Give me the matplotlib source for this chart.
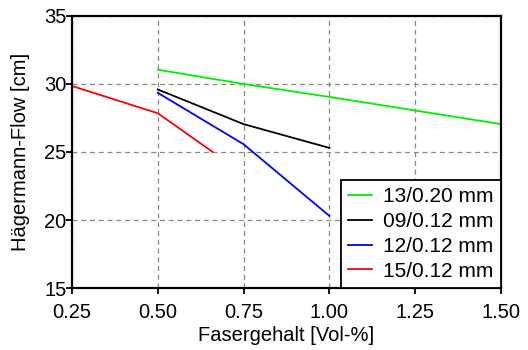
import matplotlib
matplotlib.use('Agg')
import matplotlib.pyplot as plt

plt.rcParams['font.family'] = ['Liberation Sans', 'DejaVu Sans']

# data
x_green = [0.50, 0.75, 1.00, 1.25, 1.50]
y_green = [31.05, 30.0, 29.05, 28.05, 27.05]
x_black = [0.50, 0.75, 1.00]
y_black = [29.6, 27.05, 25.3]
x_blue = [0.50, 0.75, 1.00]
y_blue = [29.35, 25.57, 20.3]
x_red = [0.25, 0.50, 0.66]
y_red = [29.85, 27.85, 25.0]
labels = ['13/0.20 mm', '09/0.12 mm', '12/0.12 mm', '15/0.12 mm']
xticks = [0.25, 0.50, 0.75, 1.00, 1.25, 1.50]
yticks = [15, 20, 25, 30, 35]

fig = plt.figure(figsize=(5.28, 3.5), dpi=100)
ax = fig.add_axes([72/528, 1 - 288/350, 429/528, 272/350])

ax.plot(x_green, y_green, color='#00ee00', lw=1.3, label=labels[0])
ax.plot(x_black, y_black, color='black', lw=1.3, label=labels[1])
ax.plot(x_blue, y_blue, color='#0000ff', lw=1.3, label=labels[2])
ax.plot(x_red, y_red, color='#ff0000', lw=1.3, label=labels[3])

ax.set_xlim(0.25, 1.5)
ax.set_ylim(15, 35)
ax.set_xticks(xticks)
ax.set_xticklabels(['%.2f' % v for v in xticks])
ax.set_yticks(yticks)
ax.tick_params(labelsize=14.5, direction='out', length=4, width=1.3)
ax.tick_params(axis='x', pad=7)
ax.tick_params(axis='y', pad=0)
ax.grid(True, linestyle=(0, (4, 3)), color='#888888', lw=0.9)
for s in ax.spines.values():
    s.set_linewidth(1.6)

ax.set_xlabel('Fasergehalt [Vol-%]', fontsize=14.5, labelpad=3)
ax.set_ylabel('Hägermann-Flow [cm]', fontsize=14.5, labelpad=10)

leg = ax.legend(loc='lower right', fontsize=15, fancybox=False, framealpha=1,
                edgecolor='black', borderaxespad=0, handlelength=1.15,
                handletextpad=0.55, labelspacing=0.28, borderpad=0.35)
leg.get_frame().set_linewidth(1.3)

fig.savefig('out.png', dpi=100)
print('Plot done')
